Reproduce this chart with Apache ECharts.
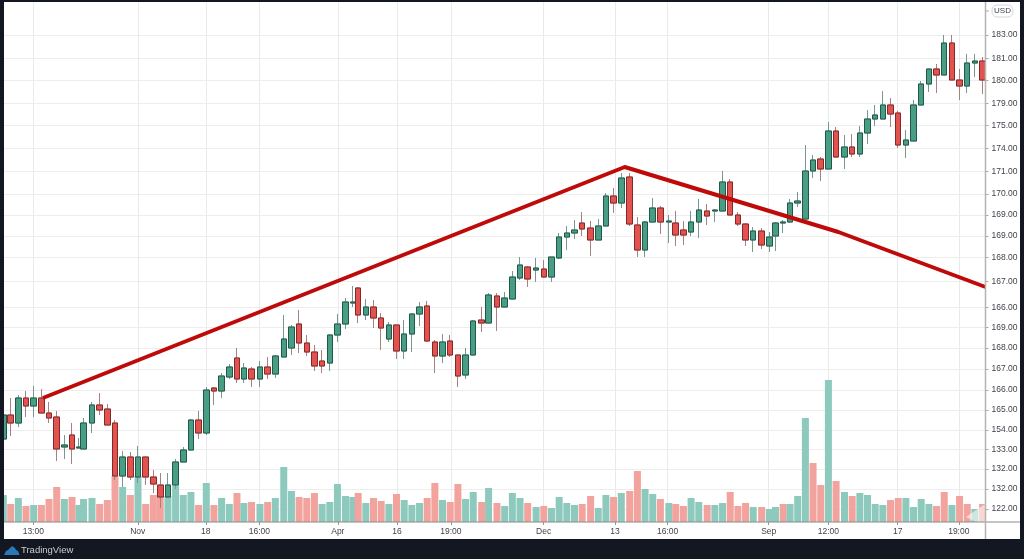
<!DOCTYPE html>
<html><head><meta charset="utf-8">
<style>
html,body{margin:0;padding:0;width:1024px;height:559px;background:#131722;overflow:hidden}
#panel{position:absolute;left:4px;top:2px;width:1016px;height:537px;background:#fff}
#main{position:absolute;left:0;top:0;width:1024px;height:559px}
#edge{position:absolute;left:0;top:0;width:4px;height:540px;background:#131722}
</style>
<script src="https://cdn.jsdelivr.net/npm/echarts@6/dist/echarts.min.js"></script>
</head><body><div id="panel"></div><div id="main"></div><div id="edge"></div>
<script>
const barTime=[-0.96,0,1,2,3,4,5,6,7,8,8.9,9.5,10.6,11.6,12.6,13.6,14.6,15.6,16.6,17.6,18.6,19.5,20.5,21.5,22.5,23.5,24.5,25.5,26.5,27.5,28.5,29.5,30.4,31.4,32.5,33.5,34.5,35.6,36.6,37.6,38.6,39.6,40.6,41.6,42.6,43.65,44.6,45.3,46.3,47.3,48.3,49.3,50.3,51.3,52.3,53.3,54.3,55.3,56.3,57.3,58.3,59.3,60.3,61.4,62.3,63.4,64.4,65.4,66.4,67.4,68.5,69.5,70.5,71.5,72.5,73.5,74.5,75.6,76.6,77.6,78.6,79.6,80.7,81.7,82.7,83.7,84.7,85.8,86.7,87.7,88.7,89.7,90.8,91.8,92.8,93.8,94.8,95.8,96.8,97.9,98.9,99.7,100.7,101.6,102.6,103.6,104.6,105.6,106.6,107.6,108.7,109.7,110.7,111.7,112.7,113.7,114.7,115.7,116.7,117.7,118.7,119.7,120.7,121.7,122.7,123.7,124.7,125.7,126.7];
const opens=[142.6,145.0,144.2,146.7,145.9,146.7,145.2,144.8,141.8,143.0,141.7,141.6,144.2,146.0,145.6,144.2,138.9,140.8,138.8,140.8,138.8,138.0,136.8,138.0,140.3,141.5,144.5,143.2,147.7,147.4,148.8,150.7,148.6,149.6,148.6,149.8,149.1,150.8,151.7,154.1,152.2,151.3,150.4,150.2,153.0,154.1,156.2,157.7,155.0,155.8,154.7,152.6,154.0,151.4,153.1,155.1,155.9,152.3,150.9,152.4,151.0,149.0,151.0,154.5,154.2,156.9,155.8,156.6,158.7,159.8,159.5,159.6,158.8,160.7,162.8,163.2,164.2,163.7,162.5,163.9,166.9,166.2,168.8,164.0,161.5,164.3,165.7,164.3,164.2,163.5,163.3,164.3,165.4,165.4,165.4,168.3,165.0,164.1,162.5,163.4,161.9,162.9,164.2,164.3,166.2,164.6,169.4,170.6,169.6,173.4,170.8,171.8,171.1,173.2,174.6,174.6,176.0,175.2,172.0,172.4,176.0,178.1,179.6,179.0,182.2,178.5,177.9,180.2,180.4];
const closes=[145.0,144.2,146.7,145.9,146.7,145.2,144.7,141.6,142.0,141.6,141.8,144.2,146.0,145.5,144.0,138.9,140.8,138.8,140.8,138.8,138.1,136.8,138.0,140.3,141.5,144.5,143.2,147.5,147.4,148.9,149.8,148.6,149.7,148.6,149.8,149.1,150.9,152.6,153.8,152.2,151.3,149.9,149.9,153.0,154.1,156.3,156.3,155.0,155.8,154.7,153.7,154.0,151.4,153.1,155.1,155.8,152.4,150.9,152.3,151.0,148.9,151.0,154.4,154.2,157.0,155.8,156.7,158.8,160.0,158.6,159.7,158.8,160.8,162.8,163.2,163.5,163.6,162.5,163.9,166.9,166.2,168.7,164.1,161.5,164.3,165.7,164.3,164.4,163.0,163.0,164.3,165.5,164.9,165.5,168.3,165.0,164.1,162.5,163.4,162.0,162.8,164.2,164.3,166.2,166.4,169.4,170.5,169.6,173.4,170.8,171.8,171.1,173.2,174.6,175.0,176.0,175.1,172.0,172.5,176.0,178.1,179.6,179.0,182.2,178.5,177.9,180.2,180.4,178.5];
const lows=[142.0,142.9,143.8,144.8,144.8,145.2,144.2,140.4,140.6,140.1,141.7,141.6,143.2,145.0,144.0,138.5,137.8,138.5,138.2,138.0,137.2,135.7,136.8,137.6,140.3,141.5,142.6,143.0,146.0,146.7,148.6,148.2,148.2,147.8,147.8,148.6,148.7,150.8,151.0,151.2,150.9,149.4,149.2,149.4,152.3,153.6,155.8,154.2,154.5,153.7,151.5,152.3,150.6,150.6,151.3,153.9,152.3,149.2,150.2,150.8,147.8,148.6,151.0,153.3,154.2,153.4,155.8,156.6,158.5,157.8,158.3,158.8,158.3,160.6,161.5,162.6,162.9,160.9,162.5,163.9,165.2,165.7,163.9,160.8,160.8,164.3,163.1,162.2,161.9,162.0,162.9,162.7,164.0,164.3,165.4,165.0,163.9,161.9,161.3,161.6,161.3,161.4,163.2,164.2,165.8,164.6,168.7,168.4,169.6,170.7,169.6,170.8,170.8,172.1,173.9,174.6,173.8,171.7,170.7,172.4,176.0,177.3,177.2,179.0,178.5,176.5,177.2,178.8,177.1];
const highs=[146.0,146.7,147.0,147.4,147.9,147.6,146.3,145.4,143.0,144.2,142.7,144.7,146.3,147.2,146.1,144.5,141.4,141.3,141.9,140.8,139.5,139.2,139.2,140.6,141.8,144.6,145.4,147.8,147.8,149.2,150.1,151.7,150.2,149.8,150.4,150.8,151.0,155.0,154.0,155.5,153.0,152.0,151.5,153.1,155.1,156.7,157.9,157.8,156.6,156.5,155.2,154.3,154.0,154.5,155.2,156.3,156.4,152.5,153.1,153.0,151.0,151.7,154.5,155.8,157.2,157.2,157.3,159.4,160.8,159.9,160.7,160.5,160.8,163.2,163.9,164.5,165.3,164.4,164.6,167.2,167.7,169.2,169.2,164.8,164.4,166.7,165.9,165.0,165.4,164.4,165.4,166.6,166.1,165.6,169.4,168.6,165.3,164.2,163.8,163.7,163.3,164.3,164.5,166.6,167.3,172.0,171.0,170.8,174.3,173.8,173.0,173.1,173.9,175.5,176.0,177.4,176.7,175.4,173.5,176.5,178.4,179.6,180.1,183.0,183.0,179.6,181.1,181.1,180.8];
const volumes=[27,18,24,16,17,17,23,35,23,25,17,23,24,18,22,46,35,27,46,18,27,26,26,36,27,30,17,39,17,24,18,29,19,20,18,20,24,55,31,25,24,29,18,20,38,26,25,29,19,24,21,18,28,22,17,19,24,39,22,20,38,23,30,20,34,19,16,29,24,19,15,16,14,25,19,17,18,26,14,27,25,29,31,51,33,28,23,19,18,16,24,20,17,17,19,30,16,19,15,15,13,15,18,18,26,104,59,37,142,41,30,26,29,27,18,17,22,24,24,15,23,18,16,30,17,26,18,13,18];
const volumeSides=("udududddud"+"uuudddudud"+"dduuuududu"+"udududuuud"+"dduuuuudud"+"duduuuddud"+"duududuuud"+"uduuuudduu"+"dudduududd"+"uuduudddud"+"uuduuuddud"+"uduuuudduu"+"uuddu"+"ddud").split("");
const priceTicks=[183.0,180.67,178.43,176.17,173.93,171.67,169.37,167.1,165.0,162.9,160.77,158.37,155.73,153.77,151.7,149.6,147.5,145.5,143.5,141.57,139.6,137.6,135.6];
const priceLabels=["183.00","181.00","180.00","179.00","175.00","174.00","171.00","170.00","169.00","169.00","168.00","167.00","166.00","169.00","168.00","167.00","166.00","165.00","154.00","133.00","132.00","132.00","122.00"];
const timeTicks=[2.95,16.57,25.44,32.43,42.65,50.35,57.39,69.47,78.78,85.64,98.82,106.6,115.64,123.6];
const timeLabels=["13:00","Nov","18","16:00","Apr","16","19:00","Dec","13","16:00","Sep","12:00","17","19:00"];
const trendLine=[[4.2,146.7],[80.05,169.8],[107.9,163.3],[127.08,157.8]];

const up='#4a9d85',down='#e2524f';
const wicks=barTime.map((t,i)=>[t,opens[i],closes[i],lows[i],highs[i]]);
const bodies=barTime.map((t,i)=>[t,opens[i],closes[i],Math.min(opens[i],closes[i]),Math.max(opens[i],closes[i])]);
const vols=barTime.map((t,i)=>[t,volumes[i]]);
const font='"Liberation Sans",Arial,sans-serif';
const chart=echarts.init(document.getElementById('main'),null,{renderer:'canvas',width:1024,height:559});
chart.setOption({
  animation:false,backgroundColor:'transparent',
  grid:{left:4,right:38.5,top:2,bottom:37,containLabel:false},
  xAxis:{type:'value',min:-0.87,max:127.08,
    axisLine:{show:false,onZero:false},
    axisTick:{show:true,length:3,customValues:timeTicks,lineStyle:{color:'#999'}},
    splitLine:{show:true,lineStyle:{color:'#e8eaec',width:1}},
    axisLabel:{customValues:timeTicks,margin:5,fontFamily:font,fontSize:8.5,color:'#3f434b',
      formatter:v=>timeLabels[timeTicks.indexOf(v)]||''}},
  yAxis:[{type:'value',position:'right',min:134.3,max:186.3,
    axisLine:{show:false,onZero:false},
    axisTick:{show:true,length:3,customValues:priceTicks,lineStyle:{color:'#aaa'}},
    splitLine:{show:true,lineStyle:{color:'#ededed',width:1}},
    axisLabel:{customValues:priceTicks,margin:6,fontFamily:font,fontSize:8.5,color:'#3f434b',
      formatter:v=>priceLabels[priceTicks.indexOf(v)]||''}},
    {type:'value',show:false,min:0,max:520,splitLine:{show:false},axisLine:{onZero:false}}],
  series:[
    {type:'bar',name:'Volume',yAxisIndex:1,data:vols,barWidth:7,z:2,
      itemStyle:{color:p=>volumeSides[p.dataIndex]==='u'?'#8dcabd':'#f2a39d'}},
    {type:'candlestick',name:'Wick',data:wicks,barWidth:6,z:3,large:false,
      encode:{x:0,y:[1,2,3,4]},
      itemStyle:{color:up,color0:down,borderColor:'#76988f',borderColor0:'#a98080',borderWidth:1}},
    {type:'candlestick',name:'Body',data:bodies,barWidth:6,z:4,large:false,
      encode:{x:0,y:[1,2,3,4]},
      itemStyle:{color:up,color0:down,borderColor:'#1e5a4a',borderColor0:'#84282a',borderWidth:1}},
    {type:'line',name:'Trend',data:trendLine,showSymbol:false,symbol:'none',z:5,
      lineStyle:{color:'#bf0a0a',width:4,cap:'butt',join:'round'}}
  ],
  graphic:[
    {type:'line',z:10,shape:{x1:4,y1:522,x2:1020,y2:522},style:{stroke:'#8a8a8a',lineWidth:1}},
    {type:'line',z:10,shape:{x1:985.5,y1:2,x2:985.5,y2:539},style:{stroke:'#b4b4b4',lineWidth:1.5}},
    {type:'polygon',z:9,shape:{points:[[966,517],[985,504],[985,522],[976,522]]},style:{fill:'rgba(255,255,255,0.55)'}},
    {type:'line',z:10,shape:{x1:986,y1:11,x2:989,y2:11},style:{stroke:'#aaa',lineWidth:1}},
    {type:'rect',z:10,shape:{x:992,y:5,width:21,height:12,r:5},style:{fill:'#fff',stroke:'#d4d6da',lineWidth:1}},
    {type:'text',z:11,style:{x:1002.5,y:11,text:'USD',fill:'#3f434b',font:'8px '+font,align:'center',verticalAlign:'middle'}},
    {type:'polygon',z:11,shape:{points:[[4,555],[6,551],[8,550],[10,548],[12,546],[15,548],[16,550],[18,551],[19.5,555]]},style:{fill:'#2a78b8'}},
    {type:'text',z:11,style:{x:21,y:550,text:'TradingView',fill:'#c9ccd3',font:'9.5px '+font,align:'left',verticalAlign:'middle'}}
  ]
});
</script></body></html>
